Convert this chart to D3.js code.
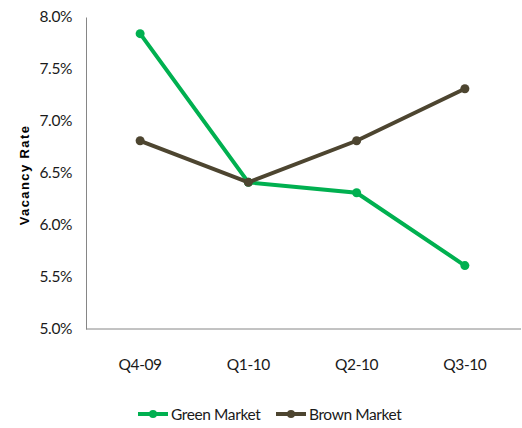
<!DOCTYPE html>
<html>
<head>
<meta charset="utf-8">
<script src="https://cdn.jsdelivr.net/npm/d3@7"></script>
<style>
  body { margin: 0; background: #fff; }
  text { font-family: Lato, sans-serif; }
</style>
</head>
<body>
<div id="chart"></div>
<script>
// quarters on the x axis
var quarters = ["Q4-09", "Q1-10", "Q2-10", "Q3-10"];
// vacancy rate in percent
var greenMarket = [7.84, 6.41, 6.31, 5.61];
var brownMarket = [6.81, 6.41, 6.81, 7.31];
var yTicks = [5.0, 5.5, 6.0, 6.5, 7.0, 7.5, 8.0];
var seriesNames = ["Green Market", "Brown Market"];
var seriesColors = ["#00b050", "#4d4530"];

var width = 522, height = 428;
var plotLeft = 86, plotRight = 519, plotTop = 17, plotBottom = 329;

var svg = d3.select("#chart").append("svg")
    .attr("width", width)
    .attr("height", height);

var x = d3.scaleBand().domain(quarters).range([plotLeft, plotRight]);
var y = d3.scaleLinear().domain([5, 8]).range([plotBottom, plotTop]);

// y axis labels, no tick marks
var yAxis = svg.append("g")
    .attr("transform", "translate(" + plotLeft + ",0)")
    .call(d3.axisLeft(y).tickValues(yTicks).tickSize(0).tickPadding(14)
        .tickFormat(function(d) { return d.toFixed(1) + "%"; }));
yAxis.select(".domain").attr("stroke", "#868686");
yAxis.selectAll("text").attr("font-size", 15.5).attr("fill", "#1a1a1a")
    .style("letter-spacing", "-0.4px");

// x axis
var xAxis = svg.append("g")
    .attr("transform", "translate(0," + plotBottom + ")")
    .call(d3.axisBottom(x).tickSize(0).tickPadding(30));
xAxis.select(".domain").attr("stroke", "#868686").attr("d", "M" + plotLeft + ",0H" + (width - 1));
xAxis.selectAll("text").attr("font-size", 15.5).attr("fill", "#1a1a1a")
    .style("letter-spacing", "-0.4px");

// axis title
svg.append("text")
    .attr("transform", "translate(29," + ((plotTop + plotBottom) / 2 + 2) + ") rotate(-90)")
    .attr("text-anchor", "middle")
    .attr("font-size", 13)
    .attr("font-weight", "bold")
    .style("font-family", "Liberation Sans, Arial, sans-serif")
    .style("letter-spacing", "1.4px")
    .text("Vacancy Rate");

var line = d3.line()
    .x(function(d, i) { return x(quarters[i]) + x.bandwidth() / 2; })
    .y(function(d) { return y(d); });

[greenMarket, brownMarket].forEach(function(series, s) {
    svg.append("path")
        .datum(series)
        .attr("fill", "none")
        .attr("stroke", seriesColors[s])
        .attr("stroke-width", 4)
        .attr("d", line);
    svg.append("g").selectAll("circle")
        .data(series)
        .enter().append("circle")
        .attr("cx", function(d, i) { return x(quarters[i]) + x.bandwidth() / 2; })
        .attr("cy", function(d) { return y(d); })
        .attr("r", 4.5)
        .attr("fill", seriesColors[s]);
});

// legend
var legendX = [138, 276];
seriesNames.forEach(function(name, s) {
    var g = svg.append("g").attr("transform", "translate(" + legendX[s] + ",414)");
    g.append("line").attr("x1", 0).attr("x2", 30).attr("y1", 0).attr("y2", 0)
        .attr("stroke", seriesColors[s]).attr("stroke-width", 4);
    g.append("circle").attr("cx", 15).attr("cy", 0).attr("r", 4).attr("fill", seriesColors[s]);
    g.append("text").attr("x", 33).attr("y", 6).attr("font-size", 15.5)
        .style("letter-spacing", "-0.4px")
        .attr("fill", "#1a1a1a").text(name);
});
</script>
</body>
</html>
